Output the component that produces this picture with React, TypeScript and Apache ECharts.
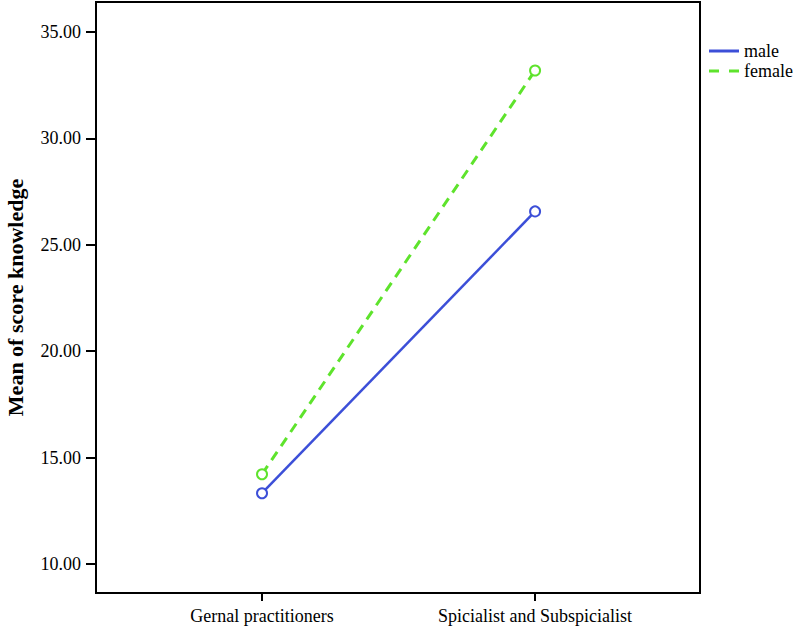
import React, { useEffect, useRef } from "react";
import * as echarts from "echarts";

const categories = ["Gernal practitioners", "Spicialist and Subspicialist"];
const maleValues = [13.33, 26.57];
const femaleValues = [14.22, 33.19];
const yTicks = [10, 15, 20, 25, 30, 35];
const seriesNames = ["male", "female"];

const FONT = "'Liberation Serif', 'Times New Roman', serif";
const BLUE = "#3c4fd8";
const GREEN = "#5ee32c";

export default function App() {
  const ref = useRef<HTMLDivElement>(null);
  useEffect(() => {
    if (!ref.current) return;
    const chart = echarts.init(ref.current, null, { renderer: "svg" });
    const toPts = (arr: number[]) => arr.map((v, i) => [i, v]);
    chart.setOption({
      animation: false,
      backgroundColor: "#ffffff",
      textStyle: { fontFamily: FONT },
      grid: {
        left: 96,
        top: 2,
        right: 94,
        bottom: 44,
        outerBoundsMode: "none",
        containLabel: false,
        show: true,
        borderColor: "#000",
        borderWidth: 2,
        backgroundColor: "transparent",
      },
      legend: {
        orient: "vertical",
        left: 704,
        top: 37,
        itemWidth: 30,
        itemHeight: 3,
        itemGap: 2,
        textStyle: { fontFamily: FONT, fontSize: 18, color: "#000" },
        data: [
          { name: seriesNames[0], icon: "rect", itemStyle: { color: BLUE, borderWidth: 0 } },
          {
            name: seriesNames[1],
            icon: "path://M0,0h10v3h-10zM20,0h10v3h-10z",
            itemStyle: { color: GREEN, borderWidth: 0 },
          },
        ],
      },
      xAxis: {
        type: "value",
        min: -0.608,
        max: 1.604,
        splitLine: { show: false },
        axisLine: { show: true, onZero: false, lineStyle: { color: "#000", width: 2 } },
        axisTick: {
          show: true,
          length: 8,
          customValues: [0, 1],
          lineStyle: { color: "#000", width: 2 },
        },
        axisLabel: {
          customValues: [0, 1],
          margin: 14,
          fontFamily: FONT,
          fontSize: 18,
          color: "#000",
          formatter: (v: number) => categories[Math.round(v)] ?? "",
        },
      },
      yAxis: {
        type: "value",
        min: 8.64,
        max: 36.41,
        name: "Mean of score knowledge",
        nameLocation: "middle",
        nameGap: 70,
        nameRotate: 90,
        nameTextStyle: { fontFamily: FONT, fontSize: 22, fontWeight: "bold", color: "#000" },
        splitLine: { show: false },
        axisLine: { show: true, onZero: false, lineStyle: { color: "#000", width: 2 } },
        axisTick: {
          show: true,
          length: 10,
          customValues: yTicks,
          lineStyle: { color: "#000", width: 2 },
        },
        axisLabel: {
          customValues: yTicks,
          margin: 15,
          fontFamily: FONT,
          fontSize: 18,
          color: "#000",
          formatter: (v: number) => v.toFixed(2),
        },
      },
      series: [
        {
          name: seriesNames[0],
          type: "line",
          data: toPts(maleValues),
          symbol: "circle",
          symbolSize: 10,
          lineStyle: { color: BLUE, width: 2.5, type: "solid" },
          itemStyle: { color: "#fff", borderColor: BLUE, borderWidth: 2 },
        },
        {
          name: seriesNames[1],
          type: "line",
          data: toPts(femaleValues),
          symbol: "circle",
          symbolSize: 10,
          lineStyle: { color: GREEN, width: 3, type: [10, 7] },
          itemStyle: { color: "#fff", borderColor: GREEN, borderWidth: 2 },
        },
      ],
    });
    return () => chart.dispose();
  }, []);
  return (
    <div
      ref={ref}
      style={{ position: "fixed", left: 0, top: 0, width: 794, height: 637 }}
    />
  );
}
